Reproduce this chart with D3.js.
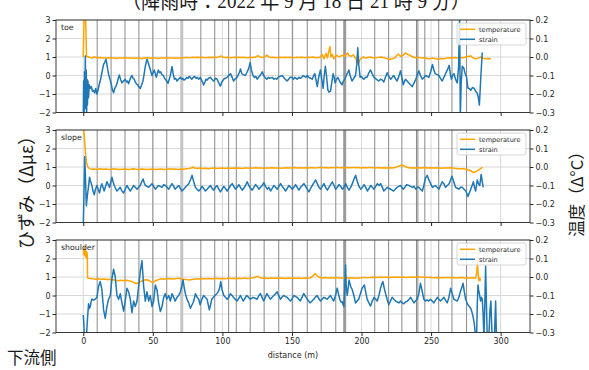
<!DOCTYPE html>
<html>
<head>
<meta charset="utf-8">
<script src="https://cdn.jsdelivr.net/npm/d3@7"></script>
<style>
  html, body { margin: 0; padding: 0; background: #fff; }
  svg { display: block; }
  .tick text { font-family: "DejaVu Sans", sans-serif; font-size: 8px; fill: #262626; }
  .tick line { stroke: #262626; }
</style>
</head>
<body>
<svg id="chart" width="589" height="370"></svg>
<script>
// distance ticks (m) and the two vertical scales
const xTicks = [0, 50, 100, 150, 200, 250, 300];
const strainTicks = [-2, -1, 0, 1, 2, 3];
const tempTicks = [-0.3, -0.2, -0.1, 0.0, 0.1, 0.2];
const panelNames = ["toe", "slope", "shoulder"];
const legendLabels = ["temperature", "strain"];

// section boundaries along the cable (m)
const sectionMarks = [10, 20, 30, 40, 50, 60, 84.5, 94.5, 104.5, 110, 120, 130, 140.5, 150.5,
  161, 171, 181.5, 209.5, 219.5, 229, 239.5, 240.5, 245.5, 255.5, 265, 275.5];
const wideMarks = [70.8, 187.9];

// toe: temperature change (deg C) and strain change (micro-strain)
const toeTemp = [[0,0.0],[0.7,0.25],[1.6,0.25],[2.3,0.004],[4,0.0],[6,-0.005],[8,0.0],[10,-0.004],[12,-0.003],[14,-0.006],[16,-0.005],[18,-0.004],[20,-0.006],[22,-0.005],[24,-0.008],[26,-0.006],[28,-0.005],[30,-0.004],[32,-0.006],[34,-0.005],[36,-0.007],[38,-0.005],[40,-0.006],[42,-0.009],[44,-0.006],[46,-0.004],[48,-0.007],[50,-0.006],[52,-0.005],[54,-0.008],[56,-0.006],[58,-0.005],[60,-0.004],[62,-0.006],[64,-0.005],[66,-0.007],[68,-0.005],[70,-0.006],[72,-0.004],[74,-0.002],[76,-0.004],[78,-0.002],[80,-0.003],[82,-0.001],[84,-0.003],[86,-0.002],[88,-0.004],[90,-0.002],[92,-0.003],[94,-0.001],[96,-0.003],[98,0.002],[99,0.006],[100,0.0],[102,-0.003],[104,-0.002],[106,-0.004],[108,-0.002],[110,-0.003],[112,-0.001],[114,-0.003],[116,-0.002],[118,-0.004],[120,-0.002],[122,-0.003],[124,0.0],[125.5,0.008],[127,0.0],[129,-0.003],[131,0.004],[132,0.01],[133.5,0.0],[135,-0.003],[137,-0.002],[139,-0.004],[141,-0.002],[143,-0.003],[145,-0.001],[147,-0.003],[149,-0.002],[151,-0.004],[153,-0.002],[155,-0.003],[157,-0.001],[159,-0.004],[161,-0.002],[163,-0.003],[165,0.0],[167,-0.004],[169,-0.002],[170,-0.003],[171,0.008],[172,0.012],[173,-0.01],[174.5,0.02],[175.5,-0.005],[176.5,0.03],[177.3,0.057],[178,0.0],[179,0.015],[180,-0.01],[182,0.01],[184,0.0],[186,0.01],[188,0.004],[190,0.022],[191,0.008],[192.5,0.004],[194,0.012],[196,-0.01],[197.5,-0.04],[199,-0.012],[201,0.0],[203,-0.005],[206,0.0],[208,-0.004],[210,-0.006],[212,-0.002],[214,0.0],[216,-0.004],[218,-0.008],[220,-0.012],[222,-0.01],[224,-0.004],[225.5,0.01],[226.5,0.015],[228,0.004],[230,0.01],[231.6,0.022],[233,0.016],[235,0.008],[237,0.0],[239,-0.004],[241,-0.002],[243,-0.006],[245,-0.004],[247,-0.008],[249,-0.01],[251,-0.006],[253,-0.009],[255,-0.012],[257,-0.008],[259,-0.01],[261,-0.006],[263,-0.004],[265,-0.006],[267,-0.003],[269,-0.005],[271,-0.002],[273,-0.004],[275,0.0],[277,0.004],[278.5,0.006],[280,-0.004],[282,-0.01],[284,-0.006],[285.6,0.0],[287,-0.006],[289,-0.01],[291,-0.008],[293,-0.011]];
const toeStrain = [[0,-2.3],[0.3,-0.3],[0.6,-2.3],[0.9,0.2],[1.2,-1.5],[1.5,1.05],[1.8,-1.8],[2.1,0.3],[2.4,-2.3],[2.7,-0.2],[3.0,-1.6],[3.4,-0.3],[3.8,-1.2],[4.3,-0.5],[5,-0.7],[5.8,-0.6],[6.6,-0.85],[7.4,-0.8],[8.2,-0.95],[9,-0.7],[9.8,-1.0],[10.6,-0.8],[11.4,-0.5],[12.2,-0.3],[13,0.0],[13.8,0.3],[14.6,0.6],[15.4,0.7],[16.3,0.88],[17,0.6],[17.6,0.3],[18.4,0.0],[19.4,-0.25],[20.2,-0.5],[21,-0.8],[21.8,-0.93],[22.6,-0.7],[23.4,-0.6],[24.2,-0.45],[25,-0.2],[25.9,0.03],[26.8,-0.2],[27.8,-0.4],[28.8,-0.3],[29.6,-0.25],[30.2,-0.2],[31,-0.35],[31.8,-0.3],[32.6,-0.45],[33.4,-0.25],[34.2,-0.1],[35,0.0],[35.8,-0.15],[36.6,-0.2],[37.4,-0.35],[38.2,-0.45],[39,-0.5],[39.8,-0.6],[41,-0.7],[42,-0.5],[42.9,-0.3],[43.8,0.1],[44.6,0.5],[45.2,0.7],[45.8,0.88],[46.6,0.7],[47.7,0.45],[48.6,0.2],[49.4,0.0],[50.2,0.15],[51,0.3],[51.8,0.1],[52.5,-0.1],[53.2,0.1],[54,0.3],[54.8,0.15],[55.6,0.2],[56.6,0.05],[57.6,0.0],[58.4,-0.15],[59,-0.2],[60,-0.3],[60.9,-0.42],[61.8,-0.2],[62.6,0.0],[63.2,0.25],[63.8,0.48],[64.6,0.1],[65.5,-0.2],[66.4,-0.15],[67.4,-0.3],[68.4,-0.2],[69.8,-0.1],[70.8,-0.2],[71.6,-0.15],[72.4,-0.25],[73.4,-0.2],[74.4,-0.1],[75.4,-0.15],[76.2,-0.05],[77,-0.1],[78,-0.2],[79,-0.1],[80,-0.05],[81,-0.15],[82,-0.1],[83,-0.2],[84,-0.1],[85,-0.25],[86,-0.4],[86.5,-0.51],[87.5,-0.35],[88.2,-0.2],[89,-0.25],[90,-0.15],[91.4,-0.1],[92.4,-0.2],[93.8,-0.3],[95,-0.15],[96.2,-0.2],[97.4,-0.4],[98.6,-0.57],[99.6,-0.35],[101,-0.2],[102,-0.15],[103.4,-0.1],[104.6,0.0],[105.8,0.1],[107,-0.1],[108,-0.3],[109,-0.2],[110.5,-0.1],[111.5,0.05],[112.4,0.2],[113,0.35],[114,0.1],[115,0.05],[116.5,0.0],[117.5,0.15],[118.5,0.3],[119.3,0.5],[120,0.7],[120.8,0.3],[122,0.0],[123,-0.1],[124,-0.05],[125,-0.2],[126,-0.1],[127,0.0],[128,0.1],[128.7,0.2],[129.6,0.0],[130.6,-0.1],[132,-0.2],[133,-0.1],[134,-0.15],[135.8,-0.1],[137,-0.2],[138,-0.15],[139,-0.2],[140,-0.1],[141.4,-0.05],[143,0.0],[144,-0.1],[145.2,-0.2],[146.5,-0.3],[147.6,-0.2],[148.6,-0.1],[150,-0.1],[151,-0.2],[152,-0.1],[153.7,-0.2],[155,-0.1],[156,-0.15],[157,-0.1],[158,0.0],[159,-0.05],[160,-0.1],[161,0.0],[162,-0.1],[163.4,-0.15],[164.6,-0.2],[165.6,0.0],[166.4,0.1],[167.2,-0.2],[168.2,-0.6],[169,-0.2],[169.8,0.1],[170.5,0.3],[171.4,-0.2],[172.4,-0.69],[173.2,0.0],[174,0.5],[174.8,0.0],[175.8,-0.78],[176.6,-0.9],[177.7,-0.85],[178.6,-0.4],[179.6,0.1],[180.3,-0.1],[181,-0.4],[182,-0.2],[183,-0.1],[183.6,-0.2],[184.6,-0.35],[186,-0.5],[187,-0.3],[188,-0.2],[189,0.0],[190,0.15],[190.9,0.3],[191.8,0.0],[193.2,-0.3],[194.4,-0.15],[195.7,0.0],[196.6,0.6],[197.3,1.5],[198,0.6],[199,-0.1],[200,-0.05],[200.8,-0.15],[201.7,-0.2],[202.8,-0.1],[204,-0.1],[205,0.1],[206.5,0.3],[207.6,0.1],[209,-0.1],[210.6,-0.2],[212.4,-0.3],[213.7,-0.2],[215,-0.25],[216,-0.35],[217.2,-0.1],[218.5,0.15],[219.6,-0.05],[221,-0.2],[222,-0.1],[223,0.0],[224.3,-0.15],[225.5,-0.3],[226.6,-0.1],[228,0.25],[229,-0.1],[230,-0.5],[231,-0.3],[231.6,-0.2],[232.8,-0.3],[234,-0.4],[235.2,-0.5],[236.5,-0.6],[237.8,-0.4],[239,-0.2],[240,0.0],[241.2,0.25],[242.4,0.0],[243.7,-0.2],[245,-0.1],[246,0.0],[247.2,-0.05],[248.4,-0.1],[249.7,0.2],[251,0.6],[252,0.3],[253,0.1],[254.4,0.05],[255.6,0.0],[256.8,-0.15],[258,-0.3],[259.2,-0.1],[260.4,0.1],[261.7,0.3],[263,0.55],[264,0.0],[264.6,-0.2],[265.5,0.0],[266.4,0.1],[267.6,-0.2],[268.8,-0.4],[269.8,0.5],[270.5,3.3],[271,-2.3],[271.6,-0.5],[272.4,0.5],[273.5,0.4],[274.5,0.1],[275.5,-0.1],[276.5,-0.68],[277.5,-0.7],[278.5,-0.8],[279.7,-0.65],[281,-0.7],[282,-0.85],[283.2,-0.96],[284,-1.2],[284.7,-1.6],[285.2,-0.9],[285.6,-0.3],[286.2,0.5],[286.8,1.25]];

// slope
const slopeTemp = [[0,0.23],[0.6,0.18],[1.2,0.12],[1.8,0.06],[2.4,0.02],[3.2,0.002],[4,-0.006],[5,-0.01],[6,-0.012],[8,-0.011],[10,-0.013],[12,-0.01],[14,-0.012],[16,-0.011],[18,-0.013],[20,-0.012],[22,-0.01],[24,-0.012],[26,-0.014],[28,-0.012],[30,-0.011],[32,-0.013],[34,-0.012],[36,-0.01],[38,-0.012],[40,-0.013],[42,-0.011],[44,-0.012],[46,-0.014],[48,-0.012],[50,-0.011],[52,-0.013],[54,-0.012],[56,-0.011],[58,-0.013],[60,-0.012],[62,-0.01],[64,-0.012],[66,-0.011],[68,-0.013],[70,-0.011],[72,-0.012],[74,-0.01],[76,-0.008],[78,-0.004],[79,0.0],[80,-0.006],[82,-0.008],[84,-0.006],[86,-0.008],[88,-0.007],[90,-0.009],[92,-0.007],[94,-0.006],[96,-0.008],[98,-0.007],[100,-0.006],[102,-0.008],[104,-0.006],[106,-0.007],[108,-0.005],[110,-0.007],[112,-0.006],[114,-0.008],[116,-0.006],[118,-0.005],[120,-0.007],[122,-0.006],[124,-0.004],[126,-0.006],[128,-0.005],[130,-0.007],[132,-0.005],[134,-0.006],[136,-0.004],[138,-0.006],[140,-0.005],[142,-0.007],[144,-0.005],[146,-0.004],[148,-0.006],[150,-0.005],[152,-0.003],[154,-0.005],[156,-0.004],[158,-0.006],[160,-0.004],[162,-0.005],[164,-0.003],[166,-0.005],[168,-0.004],[170,-0.002],[172,-0.004],[174,-0.003],[176,-0.005],[178,-0.003],[180,-0.004],[182,-0.002],[184,-0.004],[186,-0.003],[188,-0.005],[190,-0.003],[192,-0.004],[194,-0.002],[196,-0.004],[198,-0.003],[200,-0.005],[202,-0.003],[204,-0.004],[206,-0.002],[208,-0.004],[210,-0.005],[212,-0.003],[214,-0.005],[216,-0.004],[218,-0.006],[220,-0.004],[222,-0.005],[224,-0.003],[226,0.002],[228,0.008],[229.5,0.01],[231,0.004],[233,-0.003],[235,-0.005],[237,-0.004],[239,-0.006],[241,-0.004],[243,-0.005],[245,-0.003],[247,-0.005],[249,-0.004],[251,-0.006],[253,-0.004],[255,-0.005],[257,-0.007],[259,-0.005],[261,-0.006],[263,-0.004],[265,-0.006],[267,-0.007],[269,-0.009],[271,-0.01],[273,-0.009],[275,-0.012],[277,-0.016],[279,-0.022],[280.5,-0.03],[282,-0.026],[283.5,-0.02],[285,-0.012],[286,-0.006],[287,-0.002]];
const slopeStrain = [[0,-2.3],[0.5,-0.5],[1,1.55],[1.5,0.6],[2.2,-1.1],[3,-0.5],[3.7,-0.1],[4.5,0.45],[5.3,0.2],[6.2,0.0],[7,-0.3],[7.9,-0.5],[8.8,-0.2],[9.8,0.0],[10.7,-0.2],[11.7,-0.4],[12.5,-0.1],[13.4,0.1],[14.2,-0.1],[15,-0.3],[16,-0.05],[17,0.2],[18,0.05],[18.9,-0.1],[19.8,0.2],[20.6,0.45],[21.4,0.2],[22.3,0.0],[23.2,-0.15],[24.2,-0.3],[25.4,-0.2],[26.6,-0.1],[27.8,-0.3],[29,-0.4],[30.2,-0.2],[31.4,0.0],[32.6,-0.15],[33.8,-0.3],[35,-0.15],[36.2,0.0],[37.4,-0.1],[38.6,-0.2],[39.8,-0.1],[41,0.0],[42,0.2],[43,0.35],[43.8,0.15],[44.6,0.0],[45.8,-0.05],[47,-0.1],[48.2,0.0],[49.4,0.1],[50.6,-0.05],[51.8,-0.2],[53,-0.1],[54,0.0],[55.3,-0.05],[56.6,-0.1],[57.8,0.05],[59,0.0],[60.2,-0.1],[61.4,-0.2],[62.6,-0.05],[63.8,0.1],[65,-0.05],[66,-0.2],[67.3,-0.1],[68.6,0.0],[69.8,-0.15],[71,-0.3],[72.2,-0.2],[73.4,-0.1],[74.6,0.0],[75.8,0.1],[77,0.3],[78.2,0.55],[79.4,0.2],[80.6,-0.1],[81.8,-0.2],[83,-0.3],[84.2,-0.2],[85.4,-0.05],[86.6,-0.15],[87.8,-0.3],[89,-0.2],[90.2,-0.1],[91.4,0.0],[92.6,-0.15],[93.8,-0.25],[95,-0.1],[96.2,0.0],[97.4,-0.2],[98.6,-0.35],[99.8,-0.2],[101,-0.05],[102.2,-0.15],[103.4,-0.3],[104.6,-0.15],[105.8,0.0],[107,0.1],[108.2,-0.05],[109.4,-0.2],[110.6,-0.1],[111.8,0.05],[113,-0.1],[114.2,-0.25],[115.4,-0.15],[116.6,0.0],[117.8,0.2],[119,0.0],[120.2,-0.15],[121.4,-0.25],[122.6,-0.1],[123.8,0.05],[125,-0.05],[126.2,-0.2],[127.4,-0.1],[128.6,0.0],[129.8,0.15],[131,-0.05],[132.2,-0.2],[133.4,-0.1],[134.6,-0.3],[135.8,-0.15],[137,0.0],[138.2,-0.1],[139.4,-0.2],[140.6,-0.05],[141.8,0.1],[143,-0.05],[144.2,-0.15],[145.4,-0.3],[146.6,-0.15],[147.8,0.0],[149,-0.1],[150.2,-0.2],[151.4,-0.1],[152.6,0.05],[153.8,-0.1],[155,-0.25],[156.2,-0.1],[157.4,0.0],[158.6,0.1],[159.8,-0.05],[161,-0.2],[162.2,-0.35],[163.4,-0.15],[164.6,0.0],[165.8,0.15],[167,0.3],[168.2,0.1],[169.4,-0.1],[170.6,-0.2],[171.8,-0.05],[173,0.1],[174.2,-0.1],[175.4,-0.25],[176.6,-0.1],[177.8,0.05],[179,0.2],[180.2,0.0],[181.4,-0.2],[182.6,-0.1],[183.8,0.05],[185,-0.05],[186.2,-0.2],[187.4,-0.1],[188.6,0.1],[189.8,-0.1],[191,-0.25],[192.2,-0.1],[193.4,0.1],[194.6,0.35],[195.8,0.55],[197,0.2],[198.2,-0.05],[199.4,-0.2],[200.6,-0.1],[201.8,0.05],[203,-0.1],[204.2,-0.3],[205.4,-0.15],[206.6,0.0],[207.8,-0.1],[209,-0.2],[210.2,-0.05],[211.4,0.1],[212.6,0.0],[213.7,0.1],[215,-0.1],[216,-0.3],[217.2,-0.2],[218.5,-0.1],[219.6,-0.15],[221,-0.2],[222,-0.25],[223,-0.3],[224.3,-0.2],[225.5,-0.1],[226.7,-0.05],[228,0.0],[229,-0.1],[230,-0.2],[231.2,-0.1],[232.4,0.05],[234,0.0],[235.2,-0.05],[236.5,-0.1],[237.7,-0.05],[239,-0.2],[240,-0.1],[241.2,-0.1],[242.4,-0.2],[243.7,-0.3],[244.8,0.0],[246,0.4],[247.2,0.55],[248.4,0.3],[249.7,0.1],[251,-0.1],[252,-0.05],[253,0.0],[254.3,-0.1],[255.6,-0.2],[256.8,0.0],[258,0.2],[259.2,0.1],[260.4,-0.1],[261.7,0.0],[263,0.1],[264,0.3],[265,0.5],[266.3,0.2],[267.6,-0.1],[268.8,-0.15],[270,-0.2],[271.2,-0.1],[272.4,-0.1],[273.7,-0.2],[275,-0.3],[275.8,-0.45],[276.5,-0.6],[277.5,-0.4],[278.5,-0.2],[279.5,0.0],[280.4,0.2],[281.2,-0.1],[282,-0.3],[282.6,0.0],[283.2,0.3],[284,0.1],[285,0.0],[285.5,0.3],[286,0.6],[286.8,0.2],[287.5,-0.1]];

// shoulder
const shoulderTemp = [[0,0.15],[0.5,0.12],[1,0.16],[1.5,0.11],[2,0.14],[2.5,0.1],[2.9,0.13],[3.1,-0.006],[5,-0.008],[7,-0.01],[9,-0.012],[11,-0.01],[13,-0.012],[15,-0.011],[17,-0.013],[19,-0.012],[21,-0.015],[23,-0.018],[25,-0.02],[27,-0.017],[29,-0.02],[31,-0.018],[33,-0.02],[35,-0.025],[37,-0.033],[38.5,-0.035],[40,-0.03],[42,-0.022],[44,-0.016],[46,-0.015],[48,-0.022],[50,-0.03],[52,-0.02],[54,-0.014],[56,-0.01],[58,-0.012],[60,-0.01],[62,-0.008],[64,-0.011],[66,-0.01],[68,-0.006],[70,-0.009],[72,-0.012],[74,-0.014],[76,-0.016],[78,-0.014],[80,-0.012],[82,-0.01],[84,-0.011],[86,-0.009],[88,-0.01],[90,-0.008],[92,-0.01],[94,-0.009],[96,-0.007],[98,-0.009],[100,-0.008],[102,-0.01],[104,-0.006],[106,-0.008],[108,-0.007],[110,-0.009],[112,-0.007],[114,-0.008],[116,-0.006],[118,-0.008],[120,-0.007],[122,-0.004],[124,0.0],[125.5,0.004],[127,-0.004],[129,-0.007],[131,-0.006],[133,-0.008],[135,-0.006],[137,-0.007],[139,-0.005],[141,-0.007],[143,-0.006],[145,-0.008],[147,-0.006],[149,-0.007],[151,-0.005],[153,-0.007],[155,-0.006],[157,-0.008],[159,-0.006],[161,-0.007],[163,-0.005],[165,0.004],[166.5,0.018],[168,0.008],[170,-0.003],[172,-0.005],[174,-0.003],[176,-0.006],[178,-0.004],[180,-0.005],[182,-0.003],[184,-0.005],[186,-0.006],[188,-0.004],[190,-0.006],[192,-0.004],[194,-0.005],[196,-0.007],[198,-0.005],[200,-0.004],[202,-0.002],[204,-0.004],[206,-0.003],[208,-0.001],[210,-0.003],[212,-0.002],[214,0.0],[216,-0.002],[218,-0.001],[220,-0.003],[222,-0.001],[224,-0.002],[226,0.0],[228,-0.002],[230,-0.001],[232,-0.003],[234,-0.002],[236,0.0],[238,-0.001],[240,0.002],[242,0.0],[244,-0.002],[246,-0.001],[248,-0.003],[250,-0.002],[252,-0.004],[254,-0.003],[256,-0.005],[258,-0.003],[260,-0.004],[262,-0.002],[264,-0.004],[266,-0.003],[268,-0.005],[270,-0.004],[272,-0.003],[274,-0.005],[276,-0.004],[278,-0.006],[280,-0.004],[282,-0.006],[282.8,0.02],[283.3,0.075],[283.8,0.02],[284.4,-0.02],[285,-0.005],[285.6,-0.02]];
const shoulderStrain = [[0,-1.05],[0.4,-1.5],[0.8,-2.3],[1.5,-2.3],[2.2,-2.3],[3,-1.3],[3.8,-0.45],[4.4,-0.7],[5,-0.6],[5.6,-0.35],[6.2,-0.2],[7.4,-0.25],[8.6,-0.2],[9.8,-0.1],[11,0.5],[12.2,0.75],[13.4,0.3],[14.6,-0.78],[15.8,-1.23],[17,-0.6],[18.2,-0.2],[19.4,0.0],[20.6,0.9],[21.8,1.42],[23,1.0],[24.2,0.0],[25.4,-0.2],[26.6,0.1],[27.8,-0.4],[29,-0.84],[30.2,-0.3],[31.4,0.39],[32.6,0.2],[33.8,-0.2],[35,-0.93],[36.2,-0.3],[37.4,-0.6],[38.6,-0.3],[39.8,0.5],[41,1.3],[42.2,1.88],[43.4,0.5],[44.6,-0.3],[45.8,0.2],[47,-0.3],[48.2,0.0],[49.4,-0.6],[50.6,-0.3],[51.8,0.57],[53,0.3],[54.2,-0.4],[55.4,-0.86],[56.6,-0.6],[57.8,-0.1],[59,0.1],[60,-0.2],[61.4,0.0],[62.6,-0.3],[63.8,0.1],[65,-0.1],[66,-0.3],[67.4,-0.1],[68.6,0.0],[69.8,0.2],[70.8,0.5],[71.7,0.84],[72.6,0.4],[73.4,0.1],[74.5,-0.2],[75.8,-0.4],[77,-0.69],[78.2,-0.5],[79.4,-0.3],[80.6,0.1],[81.8,-0.1],[83,-0.2],[84,-0.5],[85.3,-0.2],[86.5,0.0],[87.7,-0.1],[89,-0.2],[90.6,-0.78],[91.5,-0.5],[92.4,-0.2],[93.5,-0.1],[94.7,0.0],[96,0.1],[97,0.2],[98,0.4],[98.8,0.75],[99.8,0.3],[101,0.0],[102.2,-0.1],[103.4,-0.2],[104.6,-0.1],[105.8,0.1],[107,0.0],[108,-0.1],[109.2,-0.2],[110.5,-0.3],[111.8,-0.15],[113,0.0],[114,-0.15],[115,-0.3],[116.2,-0.15],[117.5,0.0],[118.8,-0.1],[120,-0.2],[121,-0.15],[122,-0.1],[123.5,-0.15],[125,-0.2],[126.2,0.0],[127.3,0.1],[128.5,-0.1],[129.7,-0.3],[130.8,-0.1],[132,0.1],[133.2,-0.05],[134.5,-0.2],[135.7,-0.1],[137,0.0],[138.2,0.1],[139.3,0.2],[140.5,0.0],[141.7,-0.2],[142.8,-0.1],[144,0.0],[145.2,-0.05],[146.5,-0.1],[147.7,-0.2],[149,-0.3],[150.2,-0.15],[151.3,0.0],[152.5,-0.05],[153.7,-0.1],[154.8,-0.2],[156,-0.3],[157.2,-0.1],[158.5,0.1],[159.7,-0.05],[161,-0.2],[162,-0.3],[163,-0.4],[164.4,-0.3],[165.7,-0.2],[166.8,-0.1],[168,0.0],[169.2,-0.15],[170.5,-0.3],[171.7,-0.2],[173,-0.1],[174.2,-0.15],[175.3,-0.2],[176.5,-0.1],[177.7,0.0],[178.8,-0.15],[180,-0.3],[181.3,0.0],[182.5,0.39],[183.4,0.1],[184.4,-0.2],[185.2,-0.35],[186,-0.33],[187.3,-0.6],[188,0.5],[188.5,1.65],[189,0.5],[189.7,0.0],[190.4,0.4],[191,0.84],[192.2,0.5],[193.4,0.3],[194.5,0.0],[195.7,-0.4],[196.8,-0.3],[198,-0.2],[199.2,0.1],[200.5,0.4],[202,0.57],[203,0.2],[204,-0.2],[205.3,-0.4],[206.5,-0.57],[207.7,-0.3],[209,-0.1],[210.2,-0.2],[211.3,-0.3],[212.5,0.0],[213.7,0.4],[214.5,0.6],[215.4,0.75],[216.3,0.4],[217.3,0.1],[218.4,-0.2],[219.6,-0.5],[220.8,-0.3],[222,-0.1],[223.2,-0.2],[224.5,-0.3],[225.7,-0.35],[227,-0.4],[228,-0.3],[229.2,-0.4],[230.4,-0.45],[231.7,-0.35],[233,-0.3],[234.2,-0.2],[235.3,-0.1],[236.5,-0.25],[237.7,-0.4],[238.8,-0.3],[240,-0.2],[241.2,0.1],[242.4,0.66],[243.7,0.2],[244.8,-0.2],[246,-0.3],[247,-0.24],[248.3,-0.3],[249.6,-0.2],[250.8,-0.3],[252,-0.4],[253.2,-0.25],[254.5,-0.1],[255.6,-0.2],[256.8,-0.3],[258,-0.2],[259.2,-0.1],[260.4,-0.25],[261.6,-0.4],[262.8,-0.1],[264,0.39],[265.2,0.1],[266.4,-0.2],[267.6,-0.25],[268.8,-0.3],[270,-0.1],[271,0.2],[272,0.4],[273,0.66],[273.9,0.2],[274.8,-0.2],[275.6,-0.35],[276.5,-0.5],[277.5,-0.6],[278.5,-0.69],[279.4,-0.9],[280.3,-1.2],[281.2,-1.6],[282,-2.3],[282.7,-2.3],[283.2,-0.5],[283.7,0.57],[284.2,0.3],[284.7,0.1],[285.6,-0.3],[286.2,-0.1],[286.8,-0.2],[287.4,-1.0],[288,-2.3],[288.6,-0.5],[289.2,1.6],[289.8,-0.5],[290.4,-2.3],[291.5,-2.3],[292.3,-0.8],[293,-0.3],[293.5,-1.5],[294,-2.3],[295.5,-2.3],[296.4,-0.3],[297,-2.3]];

const panels = [
  { name: panelNames[0], temp: toeTemp, strain: toeStrain },
  { name: panelNames[1], temp: slopeTemp, strain: slopeStrain },
  { name: panelNames[2], temp: shoulderTemp, strain: shoulderStrain }
];

const TEMP_COLOR = "#ffa500";
const STRAIN_COLOR = "#1f77b4";

const svg = d3.select("#chart");
const left = 56, right = 530;
const panelTops = [20, 130, 240];
const panelH = 92.5;

const x = d3.scaleLinear().domain([-19.6, 321.1]).range([left, right]);

panels.forEach((p, i) => {
  const top = panelTops[i], bottom = top + panelH;
  const yS = d3.scaleLinear().domain([-2, 3]).range([bottom, top]);
  const yT = d3.scaleLinear().domain([-0.3, 0.2]).range([bottom, top]);
  const g = svg.append("g");

  const clipId = "clip" + i;
  svg.append("clipPath").attr("id", clipId)
    .append("rect").attr("x", left).attr("y", top).attr("width", right - left).attr("height", panelH);

  // grid
  const grid = g.append("g").attr("stroke", "#d4d4d4").attr("stroke-width", 0.9);
  grid.selectAll("line.h").data(strainTicks).join("line")
    .attr("x1", left).attr("x2", right)
    .attr("y1", d => yS(d)).attr("y2", d => yS(d));
  grid.selectAll("line.v").data(xTicks).join("line")
    .attr("y1", top).attr("y2", bottom)
    .attr("x1", d => x(d)).attr("x2", d => x(d));

  // section boundaries
  const marks = g.append("g").attr("clip-path", `url(#${clipId})`);
  marks.selectAll("line.m").data(sectionMarks).join("line")
    .attr("x1", d => x(d)).attr("x2", d => x(d))
    .attr("y1", top).attr("y2", bottom)
    .attr("stroke", "#8a8a8a").attr("stroke-width", 1);
  marks.selectAll("line.w").data(wideMarks).join("line")
    .attr("x1", d => x(d)).attr("x2", d => x(d))
    .attr("y1", top).attr("y2", bottom)
    .attr("stroke", (d, k) => k === 0 ? "#c4c4c4" : "#9a9a9a").attr("stroke-width", 3);

  // data lines
  const plot = g.append("g").attr("clip-path", `url(#${clipId})`);
  const lineT = d3.line().x(d => x(d[0])).y(d => yT(d[1]));
  const lineS = d3.line().x(d => x(d[0])).y(d => yS(d[1]));
  plot.append("path").datum(p.temp).attr("d", lineT)
    .attr("fill", "none").attr("stroke", TEMP_COLOR).attr("stroke-width", 1.5).attr("stroke-linejoin", "round");
  plot.append("path").datum(p.strain).attr("d", lineS)
    .attr("fill", "none").attr("stroke", STRAIN_COLOR).attr("stroke-width", 1.5).attr("stroke-linejoin", "round");

  // frame
  g.append("rect").attr("x", left).attr("y", top).attr("width", right - left).attr("height", panelH)
    .attr("fill", "none").attr("stroke", "#262626").attr("stroke-width", 0.9);

  // axes
  const axL = d3.axisLeft(yS).tickValues(strainTicks).tickSize(3.5).tickPadding(2).tickFormat(d3.format("d"));
  const axR = d3.axisRight(yT).tickValues(tempTicks).tickSize(3.5).tickPadding(2).tickFormat(d3.format(".1f"));
  const axB = d3.axisBottom(x).tickValues(xTicks).tickSize(3.5).tickPadding(2.5).tickFormat(d3.format("d"));
  const gl = g.append("g").attr("transform", `translate(${left},0)`).call(axL);
  const gr = g.append("g").attr("transform", `translate(${right},0)`).call(axR);
  const gb = g.append("g").attr("transform", `translate(0,${bottom})`).call(axB);
  [gl, gr, gb].forEach(a => a.select(".domain").remove());
  if (i < 2) gb.selectAll("text").remove();

  // panel name
  g.append("text").attr("x", 61).attr("y", top + 9.5)
    .attr("font-family", "DejaVu Sans, sans-serif").attr("font-size", 7.8).attr("fill", "#262626")
    .text(p.name);

  // legend
  const lg = g.append("g").attr("transform", `translate(457,${top + 3})`);
  lg.append("rect").attr("width", 69).attr("height", 22).attr("rx", 2)
    .attr("fill", "#fff").attr("fill-opacity", 0.8).attr("stroke", "#cccccc").attr("stroke-width", 0.8);
  legendLabels.forEach((lab, k) => {
    const yy = 6.3 + k * 10;
    lg.append("line").attr("x1", 3).attr("x2", 18).attr("y1", yy).attr("y2", yy)
      .attr("stroke", k === 0 ? TEMP_COLOR : STRAIN_COLOR).attr("stroke-width", 1.5);
    lg.append("text").attr("x", 22).attr("y", yy + 2.4)
      .attr("font-family", "DejaVu Sans, sans-serif").attr("font-size", 6.6).attr("fill", "#262626")
      .text(lab);
  });
});

// shared labels
svg.append("text").attr("x", (x(0) + x(300)) / 2 + 1).attr("y", 358)
  .attr("text-anchor", "middle").attr("font-family", "DejaVu Sans, sans-serif")
  .attr("font-size", 8).attr("fill", "#262626").text("distance (m)");

svg.append("text").attr("transform", "translate(33,188) rotate(-90)")
  .attr("text-anchor", "middle").attr("font-family", "Noto Sans CJK JP, sans-serif")
  .attr("font-size", 18).attr("fill", "#1a1a1a").text("ひずみ（Δμε）");

svg.append("text").attr("transform", "translate(583,190) rotate(-90)")
  .attr("text-anchor", "middle").attr("font-family", "Noto Sans CJK JP, sans-serif")
  .attr("font-size", 16.5).attr("fill", "#1a1a1a").text("温度（Δ°C）");

svg.append("text").attr("x", 7).attr("y", 364)
  .attr("font-family", "Noto Sans CJK JP, sans-serif")
  .attr("font-size", 16.5).attr("fill", "#1a1a1a").text("下流側");

svg.append("text").attr("x", 296).attr("y", 8)
  .attr("text-anchor", "middle").attr("font-family", "Liberation Serif, Noto Sans CJK JP, serif")
  .attr("font-size", 21).attr("fill", "#1a1a1a")
  .attr("textLength", 348).attr("lengthAdjust", "spacingAndGlyphs")
  .text("（降雨時：2022 年 9 月 18 日 21 時 9 分）");
</script>
</body>
</html>
